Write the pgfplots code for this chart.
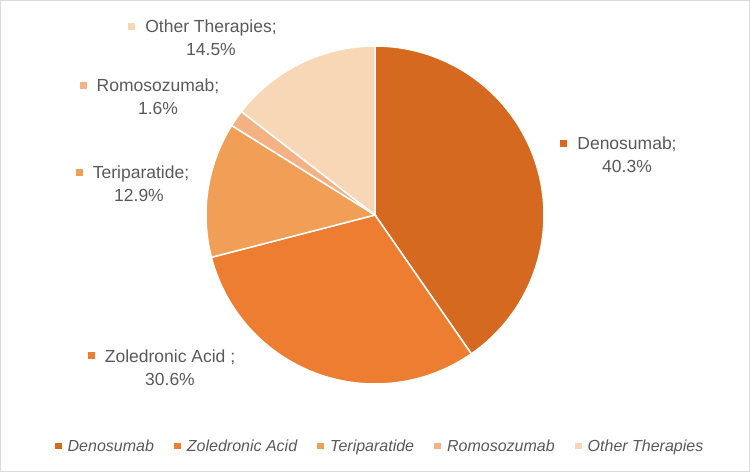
\documentclass[border=0pt]{standalone}
\usepackage{fontspec}
\setmainfont{Liberation Sans}
\usepackage{pgfplots}
\pgfplotsset{compat=1.18}
\definecolor{cD}{HTML}{D5691F}
\definecolor{cZ}{HTML}{ED7D31}
\definecolor{cT}{HTML}{F19E56}
\definecolor{cR}{HTML}{F4B183}
\definecolor{cO}{HTML}{F8D7B6}
\definecolor{tgray}{HTML}{595959}
\definecolor{bgray}{HTML}{D9D9D9}
% shares (percent)
\def\vD{40.3}
\def\vZ{30.6}
\def\vT{12.9}
\def\vR{1.6}
\def\vO{14.5}
\pgfmathsetmacro\tot{\vD+\vZ+\vT+\vR+\vO}
\pgfmathsetmacro\k{360/\tot}
\pgfmathsetmacro\aA{90}
\pgfmathsetmacro\aB{90-\k*(\vD)}
\pgfmathsetmacro\aC{90-\k*(\vD+\vZ)}
\pgfmathsetmacro\aE{90-\k*(\vD+\vZ+\vT)}
\pgfmathsetmacro\aF{90-\k*(\vD+\vZ+\vT+\vR)}
\pgfmathsetmacro\aG{90-\k*(\vD+\vZ+\vT+\vR+\vO)}
\newcommand\lf{\fontsize{17.5bp}{23bp}\selectfont}
\newcommand\gf{\fontsize{16bp}{19bp}\selectfont\itshape}
\def\cx{375}
\def\cy{257}
\def\rr{169}
\begin{document}
\begin{tikzpicture}[lab/.style={inner sep=0pt, text=tgray, font=\lf}]
\begin{axis}[
  width=750bp, height=472bp, scale only axis,
  xmin=0, xmax=750, ymin=0, ymax=472,
  hide axis, clip=false,
  legend columns=5,
  legend image code/.code={\fill[#1,draw=none] (0bp,-3bp) rectangle (7bp,3.5bp);},
  legend style={at={(axis cs:379,26)}, anchor=center, draw=none, fill=none,
    font=\gf, text=tgray, inner sep=0pt,
    nodes={inner sep=0pt},
    /tikz/every odd column/.append style={column sep=6bp},
    /tikz/every even column/.append style={column sep=20bp}},
]
\draw[bgray, line width=1bp] (axis cs:0.5,0.5) rectangle (axis cs:749.5,471.5);
\addplot[fill=cD, draw=white, line width=1.5bp, domain=\aB:\aA, samples=120, variable=\t]
  ({\cx+\rr*cos(\t)}, {\cy+\rr*sin(\t)}) -- (axis cs:\cx,\cy) -- cycle;
\addlegendentry{Denosumab}
\addplot[fill=cZ, draw=white, line width=1.5bp, domain=\aC:\aB, samples=100, variable=\t]
  ({\cx+\rr*cos(\t)}, {\cy+\rr*sin(\t)}) -- (axis cs:\cx,\cy) -- cycle;
\addlegendentry{Zoledronic Acid}
\addplot[fill=cT, draw=white, line width=1.5bp, domain=\aE:\aC, samples=50, variable=\t]
  ({\cx+\rr*cos(\t)}, {\cy+\rr*sin(\t)}) -- (axis cs:\cx,\cy) -- cycle;
\addlegendentry{Teriparatide}
\addplot[fill=cR, draw=white, line width=1.5bp, domain=\aF:\aE, samples=10, variable=\t]
  ({\cx+\rr*cos(\t)}, {\cy+\rr*sin(\t)}) -- (axis cs:\cx,\cy) -- cycle;
\addlegendentry{Romosozumab}
\addplot[fill=cO, draw=white, line width=1.5bp, domain=\aG:\aF, samples=60, variable=\t]
  ({\cx+\rr*cos(\t)}, {\cy+\rr*sin(\t)}) -- (axis cs:\cx,\cy) -- cycle;
\addlegendentry{Other Therapies}
% data labels
\node[lab, anchor=base] (d1) at (axis cs:627,322) {Denosumab;};
\node[lab, anchor=base] at (axis cs:627,299) {40.3\%};
\fill[cD] ([xshift=-17bp,yshift=3bp]d1.base west) rectangle ([xshift=-10bp,yshift=10bp]d1.base west);
\node[lab, anchor=base] (z1) at (axis cs:170,110) {Zoledronic Acid ;};
\node[lab, anchor=base] at (axis cs:170,87) {30.6\%};
\fill[cZ] ([xshift=-17bp,yshift=3bp]z1.base west) rectangle ([xshift=-10bp,yshift=10bp]z1.base west);
\node[lab, anchor=base] (t1) at (axis cs:141,293) {Teriparatide;};
\node[lab, anchor=base] at (axis cs:139,270) {12.9\%};
\fill[cT] ([xshift=-17bp,yshift=3bp]t1.base west) rectangle ([xshift=-10bp,yshift=10bp]t1.base west);
\node[lab, anchor=base] (r1) at (axis cs:158,380) {Romosozumab;};
\node[lab, anchor=base] at (axis cs:158,357) {1.6\%};
\fill[cR] ([xshift=-17bp,yshift=3bp]r1.base west) rectangle ([xshift=-10bp,yshift=10bp]r1.base west);
\node[lab, anchor=base] (o1) at (axis cs:211,439) {Other Therapies;};
\node[lab, anchor=base] at (axis cs:211,416) {14.5\%};
\fill[cO] ([xshift=-17bp,yshift=3bp]o1.base west) rectangle ([xshift=-10bp,yshift=10bp]o1.base west);
\end{axis}
\end{tikzpicture}
\end{document}
